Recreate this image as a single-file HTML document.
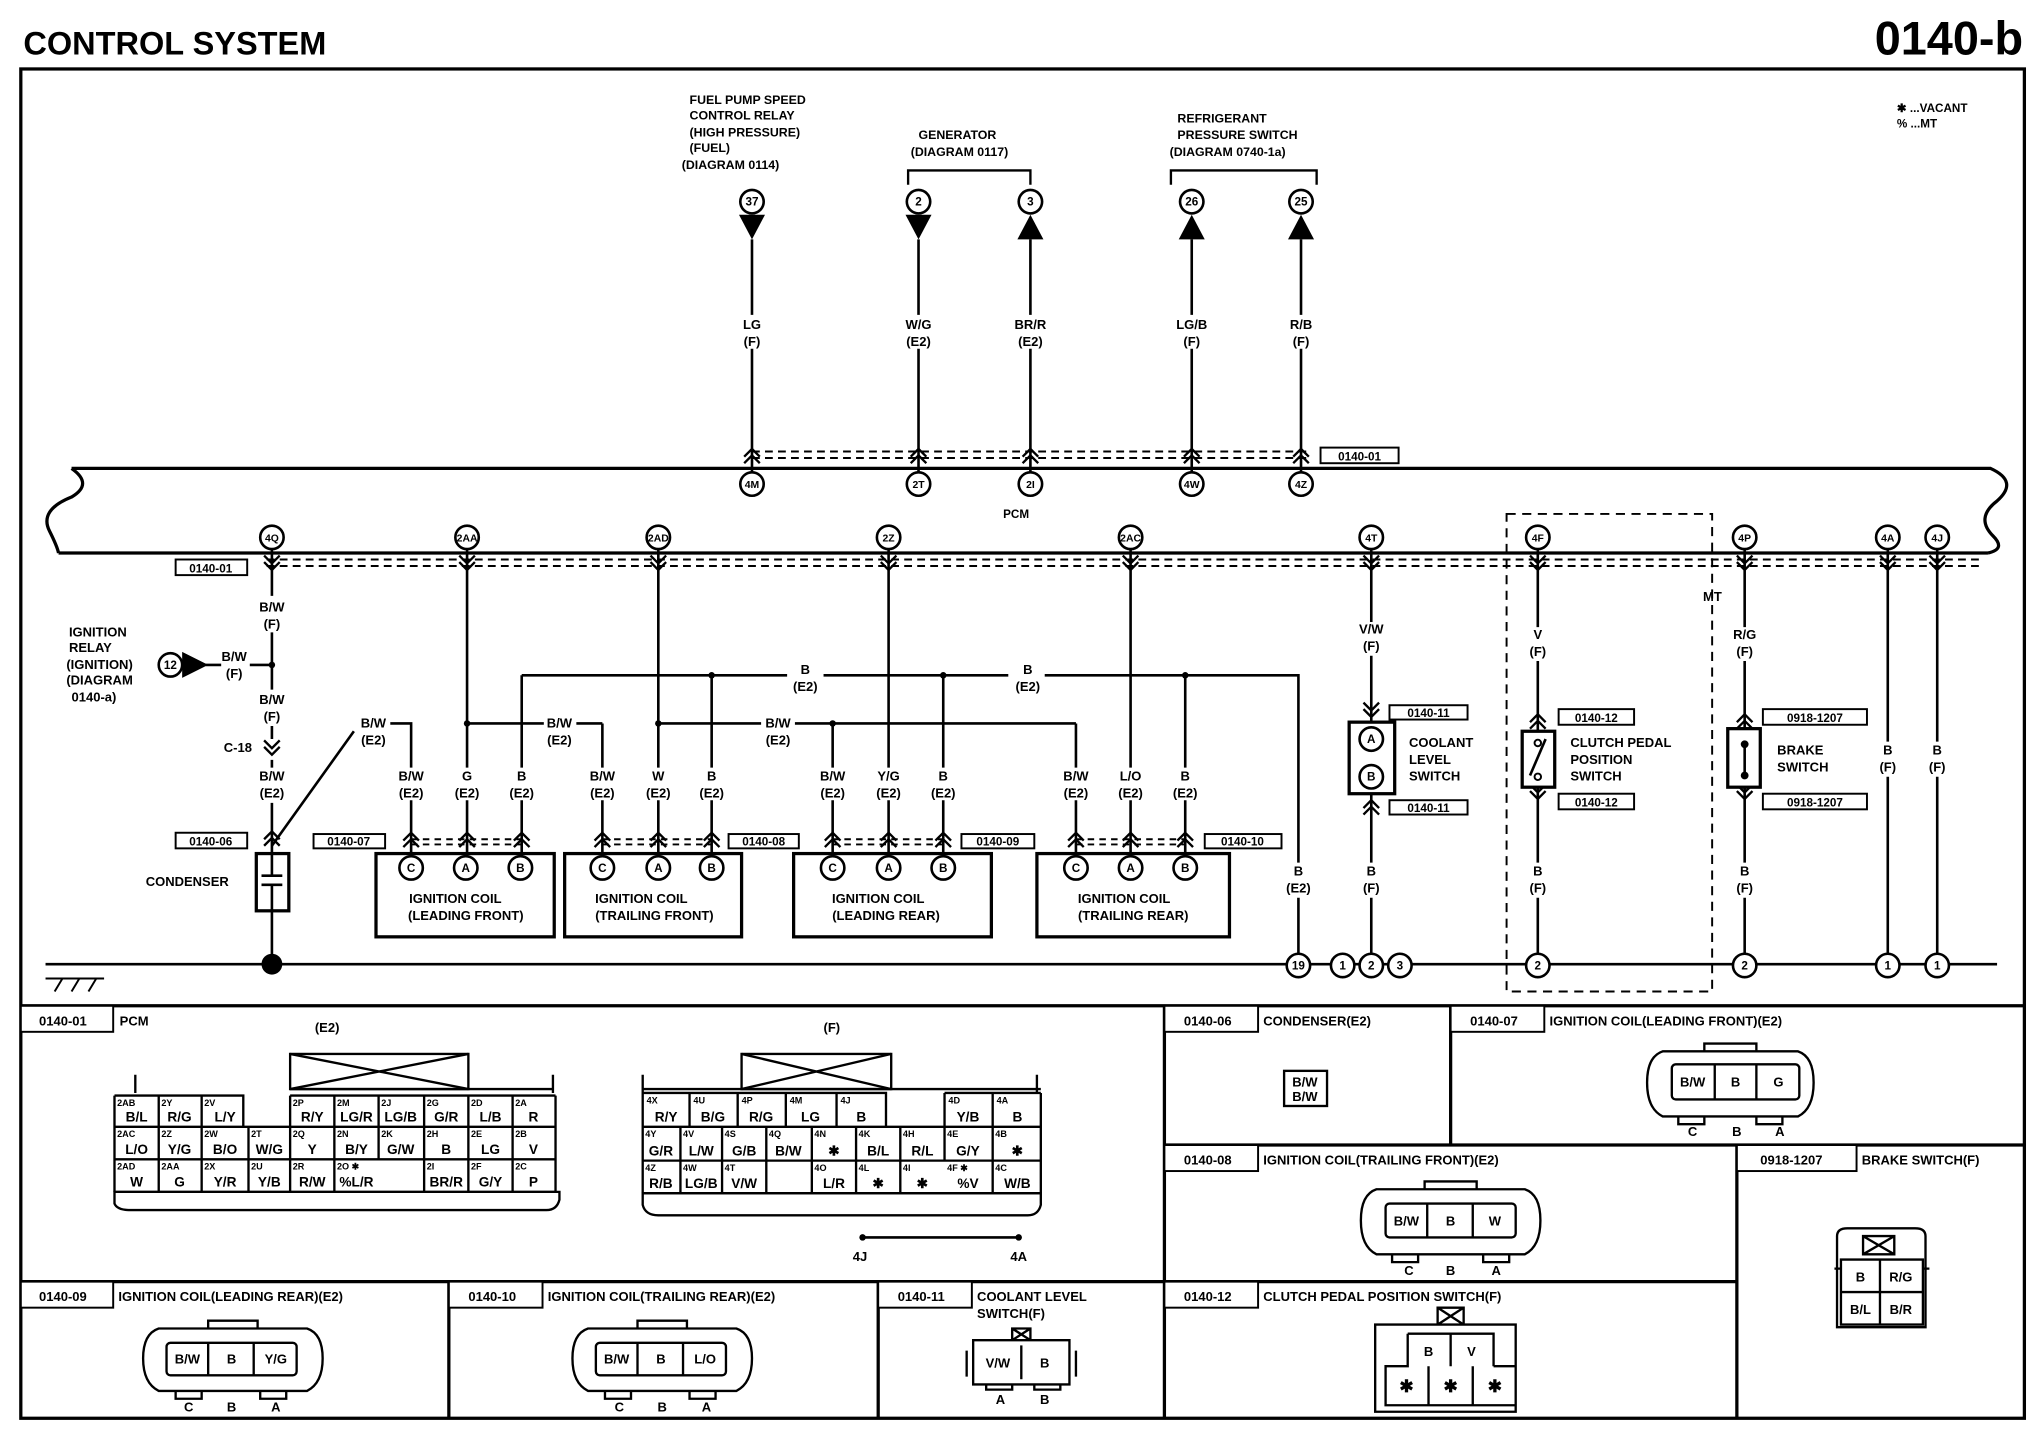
<!DOCTYPE html>
<html><head><meta charset="utf-8"><style>
html,body{margin:0;padding:0;background:#fff;}
svg{display:block}
text{font-family:"Liberation Sans",sans-serif;font-weight:bold;fill:#000}
.s{font-size:10px}
.m{text-anchor:middle}
.p{font-size:7px}
.c{font-size:10.5px}
</style></head><body>
<svg width="2040" height="1456" viewBox="0 0 1568 1119" preserveAspectRatio="none" xmlns="http://www.w3.org/2000/svg">
<defs>
<path id="cu" d="M-6,4 L0,-2 L6,4 M-6,9 L0,3 L6,9" fill="none" stroke="#000" stroke-width="1.8"/>
<path id="cd" d="M-6,-4 L0,2 L6,-4 M-6,-9 L0,-3 L6,-9" fill="none" stroke="#000" stroke-width="1.8"/>
</defs>
<rect width="1568" height="1119" fill="#fff"/>
<text x="18" y="42" style="font-size:25px">CONTROL SYSTEM</text>
<text x="1555" y="42" style="font-size:36px;text-anchor:end">0140-b</text>
<g fill="none" stroke="#000" stroke-width="2.5">
<rect x="16" y="53" width="1540" height="1037"/>
<path d="M16,773H1556M895,773V1090M1115,773V880M895,880H1556M1335,880V1090M16,985H1335M345,985V1090M675,985V1090"/>
</g>
<text x="1458" y="86" class="s" style="font-size:9px">✱ ...VACANT</text>
<text x="1458" y="98" class="s" style="font-size:9px">% ...MT</text>
<g class="s" style="font-size:9.5px">
<text x="530" y="80">FUEL PUMP SPEED</text><text x="530" y="92">CONTROL RELAY</text><text x="530" y="105">(HIGH PRESSURE)</text><text x="530" y="117">(FUEL)</text><text x="524" y="130">(DIAGRAM 0114)</text>
<text x="706" y="107">GENERATOR</text><text x="700" y="120">(DIAGRAM 0117)</text>
<text x="905" y="94">REFRIGERANT</text><text x="905" y="107">PRESSURE SWITCH</text><text x="899" y="120">(DIAGRAM 0740-1a)</text>
</g>
<path d="M698,142V131H792V142M900,142V131H1012V142" fill="none" stroke="#000" stroke-width="1.8"/>
<g stroke="#000" stroke-width="2" fill="#fff">
<circle cx="578" cy="155" r="9"/><circle cx="706" cy="155" r="9"/><circle cx="792" cy="155" r="9"/><circle cx="916" cy="155" r="9"/><circle cx="1000" cy="155" r="9"/>
</g>
<g fill="#000">
<polygon points="568,165 588,165 578,184"/><polygon points="696,165 716,165 706,184"/>
<polygon points="792,165 782,184 802,184"/><polygon points="916,165 906,184 926,184"/><polygon points="1000,165 990,184 1010,184"/>
</g>
<g class="s m" style="font-size:9px"><text x="578" y="158">37</text><text x="706" y="158">2</text><text x="792" y="158">3</text><text x="916" y="158">26</text><text x="1000" y="158">25</text></g>
<path d="M578,184V242M578,268V363M706,184V242M706,268V363M792,184V242M792,268V363M916,184V242M916,268V363M1000,184V242M1000,268V363" stroke="#000" stroke-width="2"/>
<g class="s m"><text x="578" y="253">LG</text><text x="578" y="266">(F)</text><text x="706" y="253">W/G</text><text x="706" y="266">(E2)</text><text x="792" y="253">BR/R</text><text x="792" y="266">(E2)</text><text x="916" y="253">LG/B</text><text x="916" y="266">(F)</text><text x="1000" y="253">R/B</text><text x="1000" y="266">(F)</text></g>
<path d="M578,347H1005M578,352H1005" stroke="#000" stroke-width="1.5" stroke-dasharray="6,4"/>
<use href="#cu" x="578" y="347"/><use href="#cu" x="706" y="347"/><use href="#cu" x="792" y="347"/><use href="#cu" x="916" y="347"/><use href="#cu" x="1000" y="347"/>
<rect x="1015" y="344" width="60" height="12" fill="#fff" stroke="#000" stroke-width="1.5"/><text x="1045" y="354" class="s m" style="font-size:9px">0140-01</text>
<path d="M55,360H1530 Q1552,370 1535,385 Q1518,398 1532,412 Q1542,422 1528,425 M45,425H1528 M55,360 Q72,372 55,382 Q30,392 38,408 Q44,420 45,425" fill="none" stroke="#000" stroke-width="2.5"/>
<text x="781" y="398" class="s m" style="font-size:9px">PCM</text>
<g stroke="#000" stroke-width="2" fill="#fff">
<circle cx="578" cy="372" r="9"/><circle cx="706" cy="372" r="9"/><circle cx="792" cy="372" r="9"/><circle cx="916" cy="372" r="9"/><circle cx="1000" cy="372" r="9"/>
<circle cx="209" cy="413" r="9"/><circle cx="359" cy="413" r="9"/><circle cx="506" cy="413" r="9"/><circle cx="683" cy="413" r="9"/><circle cx="869" cy="413" r="9"/><circle cx="1054" cy="413" r="9"/><circle cx="1182" cy="413" r="9"/><circle cx="1341" cy="413" r="9"/><circle cx="1451" cy="413" r="9"/><circle cx="1489" cy="413" r="9"/>
</g>
<g class="m" style="font-size:8px">
<text x="578" y="375">4M</text><text x="706" y="375">2T</text><text x="792" y="375">2I</text><text x="916" y="375">4W</text><text x="1000" y="375">4Z</text>
<text x="209" y="416">4Q</text><text x="359" y="416">2AA</text><text x="506" y="416">2AD</text><text x="683" y="416">2Z</text><text x="869" y="416">2AC</text><text x="1054" y="416">4T</text><text x="1182" y="416">4F</text><text x="1341" y="416">4P</text><text x="1451" y="416">4A</text><text x="1489" y="416">4J</text>
</g>
<path d="M205,430H1525M205,435H1525" stroke="#000" stroke-width="1.5" stroke-dasharray="6,4"/>
<g><use href="#cd" x="209" y="436"/><use href="#cd" x="359" y="436"/><use href="#cd" x="506" y="436"/><use href="#cd" x="683" y="436"/><use href="#cd" x="869" y="436"/><use href="#cd" x="1054" y="436"/><use href="#cd" x="1182" y="436"/><use href="#cd" x="1341" y="436"/><use href="#cd" x="1451" y="436"/><use href="#cd" x="1489" y="436"/></g>
<rect x="135" y="430" width="55" height="12" fill="#fff" stroke="#000" stroke-width="1.5"/><text x="162" y="440" class="s m" style="font-size:9px">0140-01</text>
<g stroke="#000" stroke-width="2" fill="none">
<path d="M209,422V458M209,486V530M209,558V568M209,584V590M209,617V656M209,700V741"/>
<path d="M158,511H170M192,511H209"/>
<path d="M209,650L272,562M300,556H316V590M316,615V658"/>
<path d="M359,422V590M359,615V658M401,519V590M401,615V658M463,556V590M463,615V658M506,422V590M506,615V658M547,519V590M547,615V658"/>
<path d="M640,556V590M640,615V658M683,422V590M683,615V658M725,519V590M725,615V658M827,556V590M827,615V658M869,422V590M869,615V658M911,519V590M911,615V658"/>
<path d="M401,519H605M633,519H775M803,519H998V663M998,690V733"/>
<path d="M359,556H418M443,556H463M506,556H585M611,556H640M640,556H827"/>
<path d="M1054,422V478M1054,504V555M1054,610V663M1054,690V733"/>
<path d="M1182,422V482M1182,508V562M1182,605V663M1182,690V733"/>
<path d="M1341,422V482M1341,508V560M1341,605V663M1341,690V733"/>
<path d="M1451,422V570M1451,597V733M1489,422V570M1489,597V733"/>
<path d="M35,741H1535"/>
<path d="M35,752H80M42,762L48,752M55,762L61,752M68,762L74,752" stroke-width="1.5"/>
</g>
<g fill="#000"><circle cx="209" cy="511" r="2.5"/><circle cx="209" cy="741" r="8"/><circle cx="547" cy="519" r="2.5"/><circle cx="725" cy="519" r="2.5"/><circle cx="911" cy="519" r="2.5"/><circle cx="359" cy="556" r="2.5"/><circle cx="506" cy="556" r="2.5"/><circle cx="640" cy="556" r="2.5"/>
<polygon points="140,501 140,521 160,511"/></g>
<circle cx="131" cy="511" r="9" fill="#fff" stroke="#000" stroke-width="2"/><text x="131" y="514" class="m" style="font-size:9px">12</text>
<g class="s"><text x="53" y="489">IGNITION</text><text x="53" y="501">RELAY</text><text x="51" y="514">(IGNITION)</text><text x="51" y="526">(DIAGRAM</text><text x="55" y="539">0140-a)</text>
<text x="112" y="681">CONDENSER</text><text x="172" y="578">C-18</text></g>
<use href="#cd" x="209" y="578"/>
<g class="s m">
<text x="209" y="470">B/W</text><text x="209" y="483">(F)</text><text x="180" y="508">B/W</text><text x="180" y="521">(F)</text><text x="209" y="541">B/W</text><text x="209" y="554">(F)</text><text x="209" y="600">B/W</text><text x="209" y="613">(E2)</text>
<text x="287" y="559">B/W</text><text x="287" y="572">(E2)</text><text x="430" y="559">B/W</text><text x="430" y="572">(E2)</text><text x="598" y="559">B/W</text><text x="598" y="572">(E2)</text>
<text x="619" y="518">B</text><text x="619" y="531">(E2)</text><text x="790" y="518">B</text><text x="790" y="531">(E2)</text>
<text x="316" y="600">B/W</text><text x="316" y="613">(E2)</text><text x="359" y="600">G</text><text x="359" y="613">(E2)</text><text x="401" y="600">B</text><text x="401" y="613">(E2)</text>
<text x="463" y="600">B/W</text><text x="463" y="613">(E2)</text><text x="506" y="600">W</text><text x="506" y="613">(E2)</text><text x="547" y="600">B</text><text x="547" y="613">(E2)</text>
<text x="640" y="600">B/W</text><text x="640" y="613">(E2)</text><text x="683" y="600">Y/G</text><text x="683" y="613">(E2)</text><text x="725" y="600">B</text><text x="725" y="613">(E2)</text>
<text x="827" y="600">B/W</text><text x="827" y="613">(E2)</text><text x="869" y="600">L/O</text><text x="869" y="613">(E2)</text><text x="911" y="600">B</text><text x="911" y="613">(E2)</text>
<text x="998" y="673">B</text><text x="998" y="686">(E2)</text>
<text x="1054" y="487">V/W</text><text x="1054" y="500">(F)</text><text x="1054" y="673">B</text><text x="1054" y="686">(F)</text>
<text x="1182" y="491">V</text><text x="1182" y="504">(F)</text><text x="1182" y="673">B</text><text x="1182" y="686">(F)</text>
<text x="1341" y="491">R/G</text><text x="1341" y="504">(F)</text><text x="1341" y="673">B</text><text x="1341" y="686">(F)</text>
<text x="1451" y="580">B</text><text x="1451" y="593">(F)</text><text x="1489" y="580">B</text><text x="1489" y="593">(F)</text>
</g>
<rect x="197" y="656" width="25" height="44" fill="#fff" stroke="#000" stroke-width="2.5"/>
<path d="M209,656V673M201,673H217M201,680H217M209,680V700" stroke="#000" stroke-width="2"/>
<rect x="135" y="640" width="55" height="12" fill="#fff" stroke="#000" stroke-width="1.5"/><text x="162" y="650" class="s m" style="font-size:9px">0140-06</text>
<use href="#cu" x="209" y="641"/>
<path d="M316,645H401M316,649H401M463,645H547M463,649H547M640,645H725M640,649H725M827,645H911M827,649H911" stroke="#000" stroke-width="1.5" stroke-dasharray="5,4"/>
<g><use href="#cu" x="316" y="642"/><use href="#cu" x="359" y="642"/><use href="#cu" x="401" y="642"/><use href="#cu" x="463" y="642"/><use href="#cu" x="506" y="642"/><use href="#cu" x="547" y="642"/><use href="#cu" x="640" y="642"/><use href="#cu" x="683" y="642"/><use href="#cu" x="725" y="642"/><use href="#cu" x="827" y="642"/><use href="#cu" x="869" y="642"/><use href="#cu" x="911" y="642"/></g>
<g fill="none" stroke="#000" stroke-width="2.5"><rect x="289" y="656" width="137" height="64"/><rect x="434" y="656" width="136" height="64"/><rect x="610" y="656" width="152" height="64"/><rect x="797" y="656" width="148" height="64"/></g>
<g fill="#fff" stroke="#000" stroke-width="1.5">
<rect x="241" y="641" width="55" height="11"/><rect x="560" y="641" width="54" height="11"/><rect x="739" y="641" width="56" height="11"/><rect x="926" y="641" width="59" height="11"/>
</g>
<g class="s m" style="font-size:9px"><text x="268" y="650">0140-07</text><text x="587" y="650">0140-08</text><text x="767" y="650">0140-09</text><text x="955" y="650">0140-10</text></g>
<g fill="#fff" stroke="#000" stroke-width="2">
<circle cx="316" cy="667" r="9"/><circle cx="358" cy="667" r="9"/><circle cx="400" cy="667" r="9"/><circle cx="463" cy="667" r="9"/><circle cx="506" cy="667" r="9"/><circle cx="547" cy="667" r="9"/><circle cx="640" cy="667" r="9"/><circle cx="683" cy="667" r="9"/><circle cx="725" cy="667" r="9"/><circle cx="827" cy="667" r="9"/><circle cx="869" cy="667" r="9"/><circle cx="911" cy="667" r="9"/>
</g>
<g class="m" style="font-size:9px"><text x="316" y="670">C</text><text x="358" y="670">A</text><text x="400" y="670">B</text><text x="463" y="670">C</text><text x="506" y="670">A</text><text x="547" y="670">B</text><text x="640" y="670">C</text><text x="683" y="670">A</text><text x="725" y="670">B</text><text x="827" y="670">C</text><text x="869" y="670">A</text><text x="911" y="670">B</text></g>
<g class="s m"><text x="350" y="694">IGNITION COIL</text><text x="358" y="707">(LEADING FRONT)</text><text x="493" y="694">IGNITION COIL</text><text x="503" y="707">(TRAILING FRONT)</text><text x="675" y="694">IGNITION COIL</text><text x="681" y="707">(LEADING REAR)</text><text x="864" y="694">IGNITION COIL</text><text x="871" y="707">(TRAILING REAR)</text></g>
<use href="#cd" x="1054" y="549"/><use href="#cu" x="1054" y="617"/>
<rect x="1037" y="555" width="35" height="55" fill="#fff" stroke="#000" stroke-width="2.5"/>
<circle cx="1054" cy="568" r="9" fill="#fff" stroke="#000" stroke-width="2"/><circle cx="1054" cy="597" r="9" fill="#fff" stroke="#000" stroke-width="2"/>
<text x="1054" y="571" class="m" style="font-size:9px">A</text><text x="1054" y="600" class="m" style="font-size:9px">B</text>
<g fill="#fff" stroke="#000" stroke-width="1.5"><rect x="1068" y="542" width="60" height="11"/><rect x="1068" y="615" width="60" height="11"/><rect x="1198" y="545" width="58" height="12"/><rect x="1198" y="610" width="58" height="12"/><rect x="1355" y="545" width="80" height="12"/><rect x="1355" y="610" width="80" height="12"/></g>
<g class="s m" style="font-size:9px"><text x="1098" y="551">0140-11</text><text x="1098" y="624">0140-11</text><text x="1227" y="555">0140-12</text><text x="1227" y="620">0140-12</text><text x="1395" y="555">0918-1207</text><text x="1395" y="620">0918-1207</text></g>
<g class="s"><text x="1083" y="574">COOLANT</text><text x="1083" y="587">LEVEL</text><text x="1083" y="600">SWITCH</text><text x="1207" y="574">CLUTCH PEDAL</text><text x="1207" y="587">POSITION</text><text x="1207" y="600">SWITCH</text><text x="1366" y="580">BRAKE</text><text x="1366" y="593">SWITCH</text><text x="1309" y="462">MT</text></g>
<use href="#cu" x="1182" y="551"/><use href="#cd" x="1182" y="612"/><use href="#cu" x="1341" y="551"/><use href="#cd" x="1341" y="612"/>
<rect x="1170" y="562" width="25" height="43" fill="#fff" stroke="#000" stroke-width="2.5"/>
<path d="M1176,596L1188,568" stroke="#000" stroke-width="2"/><circle cx="1182" cy="571" r="2.5" fill="#fff" stroke="#000" stroke-width="1.5"/><circle cx="1182" cy="597" r="2.5" fill="#fff" stroke="#000" stroke-width="1.5"/>
<rect x="1328" y="560" width="25" height="45" fill="#fff" stroke="#000" stroke-width="2.5"/>
<path d="M1341,570V597" stroke="#000" stroke-width="2"/><circle cx="1341" cy="572" r="3" fill="#000"/><circle cx="1341" cy="596" r="3" fill="#000"/>
<rect x="1158" y="395" width="158" height="367" fill="none" stroke="#000" stroke-width="1.5" stroke-dasharray="7,5"/>
<g fill="#fff" stroke="#000" stroke-width="2"><circle cx="998" cy="742" r="9"/><circle cx="1032" cy="742" r="9"/><circle cx="1054" cy="742" r="9"/><circle cx="1076" cy="742" r="9"/><circle cx="1182" cy="742" r="9"/><circle cx="1341" cy="742" r="9"/><circle cx="1451" cy="742" r="9"/><circle cx="1489" cy="742" r="9"/></g>
<g class="m" style="font-size:9px"><text x="998" y="745">19</text><text x="1032" y="745">1</text><text x="1054" y="745">2</text><text x="1076" y="745">3</text><text x="1182" y="745">2</text><text x="1341" y="745">2</text><text x="1451" y="745">1</text><text x="1489" y="745">1</text></g>
<g fill="#fff" stroke="#000" stroke-width="1.5">
<rect x="16" y="773" width="71" height="20"/><rect x="895" y="773" width="72" height="20"/><rect x="1115" y="773" width="72" height="20"/><rect x="895" y="880" width="72" height="20"/><rect x="1335" y="880" width="92" height="20"/><rect x="16" y="985" width="71" height="20"/><rect x="345" y="985" width="72" height="20"/><rect x="675" y="985" width="72" height="20"/><rect x="895" y="985" width="72" height="20"/>
</g>
<g class="s"><text x="30" y="788">0140-01</text><text x="92" y="788">PCM</text><text x="910" y="788">0140-06</text><text x="971" y="788">CONDENSER(E2)</text><text x="1130" y="788">0140-07</text><text x="1191" y="788">IGNITION COIL(LEADING FRONT)(E2)</text>
<text x="910" y="895">0140-08</text><text x="971" y="895">IGNITION COIL(TRAILING FRONT)(E2)</text><text x="1353" y="895">0918-1207</text><text x="1431" y="895">BRAKE SWITCH(F)</text>
<text x="30" y="1000">0140-09</text><text x="91" y="1000">IGNITION COIL(LEADING REAR)(E2)</text><text x="360" y="1000">0140-10</text><text x="421" y="1000">IGNITION COIL(TRAILING REAR)(E2)</text><text x="690" y="1000">0140-11</text><text x="751" y="1000">COOLANT LEVEL</text><text x="751" y="1013">SWITCH(F)</text><text x="910" y="1000">0140-12</text><text x="971" y="1000">CLUTCH PEDAL POSITION SWITCH(F)</text>
<text x="242" y="793">(E2)</text><text x="633" y="793">(F)</text></g>
<g fill="none" stroke="#000" stroke-width="1.8">
<rect x="223" y="810" width="137" height="27"/><path d="M223,810L360,837M360,810L223,837"/>
<path d="M104,840V826M425,840V826M223,837H425M88,916V925Q90,930 100,930H420Q428,930 430,922V916Z"/>
<path d="M88,842H187V866M88,866H427M88,891H427M88,916H427M223,842H427M88,842V916M122,842V916M155,842V916M191,866V916M223,842V916M257,842V916M291,842V891M326,842V916M360,842V916M394,842V916M427,842V916"/>
</g>
<g class="p">
<text x="90" y="850">2AB</text><text x="124" y="850">2Y</text><text x="157" y="850">2V</text><text x="225" y="850">2P</text><text x="259" y="850">2M</text><text x="293" y="850">2J</text><text x="328" y="850">2G</text><text x="362" y="850">2D</text><text x="396" y="850">2A</text>
<text x="90" y="874">2AC</text><text x="124" y="874">2Z</text><text x="157" y="874">2W</text><text x="193" y="874">2T</text><text x="225" y="874">2Q</text><text x="259" y="874">2N</text><text x="293" y="874">2K</text><text x="328" y="874">2H</text><text x="362" y="874">2E</text><text x="396" y="874">2B</text>
<text x="90" y="899">2AD</text><text x="124" y="899">2AA</text><text x="157" y="899">2X</text><text x="193" y="899">2U</text><text x="225" y="899">2R</text><text x="259" y="899">2O ✱</text><text x="328" y="899">2I</text><text x="362" y="899">2F</text><text x="396" y="899">2C</text>
</g>
<g class="c m">
<text x="105" y="862">B/L</text><text x="138" y="862">R/G</text><text x="173" y="862">L/Y</text><text x="240" y="862">R/Y</text><text x="274" y="862">LG/R</text><text x="308" y="862">LG/B</text><text x="343" y="862">G/R</text><text x="377" y="862">L/B</text><text x="410" y="862">R</text>
<text x="105" y="887">L/O</text><text x="138" y="887">Y/G</text><text x="173" y="887">B/O</text><text x="207" y="887">W/G</text><text x="240" y="887">Y</text><text x="274" y="887">B/Y</text><text x="308" y="887">G/W</text><text x="343" y="887">B</text><text x="377" y="887">LG</text><text x="410" y="887">V</text>
<text x="105" y="912">W</text><text x="138" y="912">G</text><text x="173" y="912">Y/R</text><text x="207" y="912">Y/B</text><text x="240" y="912">R/W</text><text x="274" y="912">%L/R</text><text x="343" y="912">BR/R</text><text x="377" y="912">G/Y</text><text x="410" y="912">P</text>
</g>
<g fill="none" stroke="#000" stroke-width="1.8">
<rect x="570" y="810" width="115" height="27"/><path d="M570,810L685,837M685,810L570,837"/>
<path d="M494,840V826M797,840V826M494,837H800M494,917V926Q496,934 506,934H790Q798,934 800,926V917Z"/>
<path d="M494,840H681V866M726,840H800M494,866H800M494,892H800M494,917H800M494,840V917M530,840V866M567,840V866M604,840V866M643,840V866M726,840V892M763,840V917M800,840V917M523,866V917M555,866V917M589,866V917M624,866V917M658,866V917M692,866V917"/>
</g>
<g class="p">
<text x="497" y="848">4X</text><text x="533" y="848">4U</text><text x="570" y="848">4P</text><text x="607" y="848">4M</text><text x="646" y="848">4J</text><text x="729" y="848">4D</text><text x="766" y="848">4A</text>
<text x="496" y="874">4Y</text><text x="525" y="874">4V</text><text x="557" y="874">4S</text><text x="591" y="874">4Q</text><text x="626" y="874">4N</text><text x="660" y="874">4K</text><text x="694" y="874">4H</text><text x="728" y="874">4E</text><text x="765" y="874">4B</text>
<text x="496" y="900">4Z</text><text x="525" y="900">4W</text><text x="557" y="900">4T</text><text x="626" y="900">4O</text><text x="660" y="900">4L</text><text x="694" y="900">4I</text><text x="728" y="900">4F ✱</text><text x="765" y="900">4C</text>
</g>
<g class="c m">
<text x="512" y="862">R/Y</text><text x="548" y="862">B/G</text><text x="585" y="862">R/G</text><text x="623" y="862">LG</text><text x="662" y="862">B</text><text x="744" y="862">Y/B</text><text x="782" y="862">B</text>
<text x="508" y="888">G/R</text><text x="539" y="888">L/W</text><text x="572" y="888">G/B</text><text x="606" y="888">B/W</text><text x="641" y="888">✱</text><text x="675" y="888">B/L</text><text x="709" y="888">R/L</text><text x="744" y="888">G/Y</text><text x="782" y="888">✱</text>
<text x="508" y="913">R/B</text><text x="539" y="913">LG/B</text><text x="572" y="913">V/W</text><text x="641" y="913">L/R</text><text x="675" y="913">✱</text><text x="709" y="913">✱</text><text x="744" y="913">%V</text><text x="782" y="913">W/B</text>
</g>
<path d="M663,951H783" stroke="#000" stroke-width="2"/><circle cx="663" cy="951" r="2.5"/><circle cx="783" cy="951" r="2.5"/>
<text x="661" y="969" class="s m">4J</text><text x="783" y="969" class="s m">4A</text>
<rect x="987" y="823" width="33" height="27" fill="none" stroke="#000" stroke-width="1.8"/><text x="1003" y="835" class="s m">B/W</text><text x="1003" y="846" class="s m">B/W</text>
<g fill="none" stroke="#000" stroke-width="1.8">
<path d="M1278,808H1382Q1394,812 1394,832Q1394,852 1382,858H1278Q1266,852 1266,832Q1266,812 1278,808ZM1310,808V802H1350V808M1290,858V864H1310V858M1350,858V864H1370V858"/>
<rect x="1285" y="818" width="98" height="27" rx="3"/><path d="M1318,818V845M1350,818V845"/>
<path d="M1058,914H1172Q1184,918 1184,938Q1184,958 1172,964H1058Q1046,958 1046,938Q1046,918 1058,914ZM1095,914V908H1135V914M1070,964V970H1090V964M1140,964V970H1160V964"/>
<rect x="1065" y="925" width="100" height="26" rx="3"/><path d="M1097,925V951M1132,925V951"/>
<path d="M122,1021H236Q248,1025 248,1044Q248,1063 236,1069H122Q110,1063 110,1044Q110,1025 122,1021ZM160,1021V1015H198V1021M135,1069V1075H155V1069M200,1069V1075H220V1069"/>
<rect x="128" y="1032" width="100" height="25" rx="3"/><path d="M160,1032V1057M195,1032V1057"/>
<path d="M452,1021H566Q578,1025 578,1044Q578,1063 566,1069H452Q440,1063 440,1044Q440,1025 452,1021ZM490,1021V1015H528V1021M465,1069V1075H485V1069M530,1069V1075H550V1069"/>
<rect x="458" y="1032" width="100" height="25" rx="3"/><path d="M490,1032V1057M525,1032V1057"/>
<path d="M748,1030H822V1064H748ZM743,1038V1058M827,1038V1058M778,1030V1021H792V1030M778,1021L792,1030M792,1021L778,1030M758,1064V1068H778V1064M795,1064V1068H815V1064"/>
<path d="M785,1034V1060"/>
<path d="M1057,1018H1165V1085H1057ZM1105,1018V1005H1125V1018M1105,1005L1125,1018M1125,1005L1105,1018M1082,1025H1148V1050M1082,1025V1050H1065V1080H1165V1050H1148M1115,1025V1050M1098,1050V1080M1132,1050V1080"/>
<path d="M1412,950Q1412,944 1420,944H1472Q1480,944 1480,950V1020H1412ZM1432,950H1456V964H1432ZM1432,950L1456,964M1456,950L1432,964M1415,968H1478V1018H1415ZM1415,993H1478M1445,968V1018M1410,975H1415M1478,975H1483"/>
</g>
<g class="s m">
<text x="1301" y="835">B/W</text><text x="1334" y="835">B</text><text x="1367" y="835">G</text><text x="1301" y="873">C</text><text x="1335" y="873">B</text><text x="1368" y="873">A</text>
<text x="1081" y="942">B/W</text><text x="1115" y="942">B</text><text x="1149" y="942">W</text><text x="1083" y="980">C</text><text x="1115" y="980">B</text><text x="1150" y="980">A</text>
<text x="144" y="1048">B/W</text><text x="178" y="1048">B</text><text x="212" y="1048">Y/G</text><text x="145" y="1085">C</text><text x="178" y="1085">B</text><text x="212" y="1085">A</text>
<text x="474" y="1048">B/W</text><text x="508" y="1048">B</text><text x="542" y="1048">L/O</text><text x="476" y="1085">C</text><text x="509" y="1085">B</text><text x="543" y="1085">A</text>
<text x="767" y="1051">V/W</text><text x="803" y="1051">B</text><text x="769" y="1079">A</text><text x="803" y="1079">B</text>
<text x="1098" y="1042">B</text><text x="1131" y="1042">V</text><text x="1081" y="1070" style="font-size:13px">✱</text><text x="1115" y="1070" style="font-size:13px">✱</text><text x="1149" y="1070" style="font-size:13px">✱</text>
<text x="1430" y="985">B</text><text x="1461" y="985">R/G</text><text x="1430" y="1010">B/L</text><text x="1461" y="1010">B/R</text>
</g>
</svg>
</body></html>
